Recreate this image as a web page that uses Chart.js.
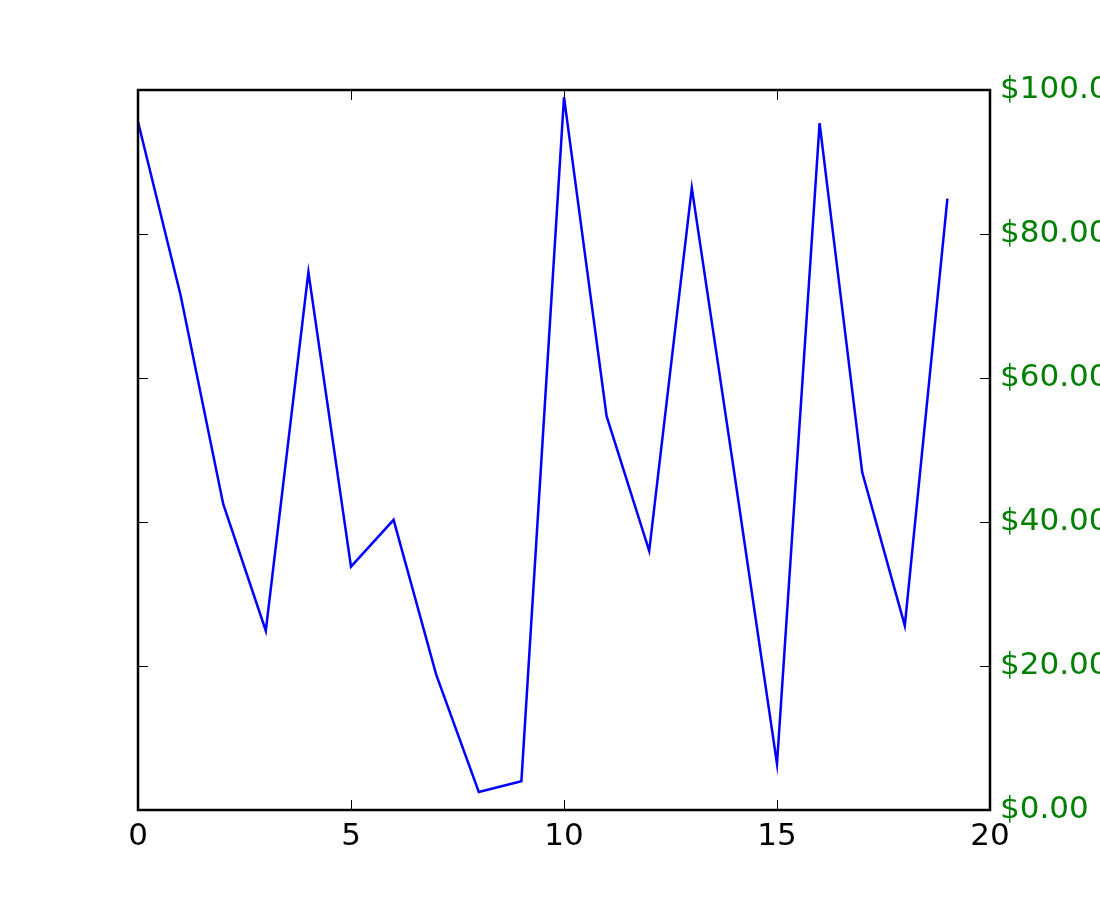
<!DOCTYPE html>
<html>
<head>
<meta charset="utf-8">
<script src="https://cdn.jsdelivr.net/npm/chart.js@4"></script>
<style>
  html, body { margin: 0; padding: 0; background: #fff; }
  #wrap { width: 1100px; height: 900px; }
</style>
</head>
<body>
<div id="wrap"><canvas id="chart" width="1100" height="900"></canvas></div>
<script>
const xValues = [0, 1, 2, 3, 4, 5, 6, 7, 8, 9, 10, 11, 12, 13, 14, 15, 16, 17, 18, 19];
const yValues = [95.6, 71.5, 42.5, 24.9, 74.7, 33.8, 40.3, 18.8, 2.5, 4.0,
                 99.0, 54.7, 36.0, 86.4, 46.7, 6.4, 95.4, 46.9, 25.6, 84.9];
const xTicks = [0, 5, 10, 15, 20];
const yTicks = [0, 20, 40, 60, 80, 100];

// matplotlib-style frame with inward ticks on all four sides
const frameTicks = {
    id: 'frameTicks',
    afterDraw(chart) {
        const ctx = chart.ctx;
        const a = chart.chartArea;
        const xs = chart.scales.x, ys = chart.scales.y;
        ctx.save();
        ctx.strokeStyle = '#000';
        ctx.lineWidth = 1;
        ctx.beginPath();
        xTicks.forEach(v => {
            const px = Math.round(xs.getPixelForValue(v)) + 0.5;
            ctx.moveTo(px, a.bottom); ctx.lineTo(px, a.bottom - 10);
            ctx.moveTo(px, a.top); ctx.lineTo(px, a.top + 10);
        });
        yTicks.forEach(v => {
            const py = Math.round(ys.getPixelForValue(v)) + 0.5;
            ctx.moveTo(a.left, py); ctx.lineTo(a.left + 10, py);
            ctx.moveTo(a.right, py); ctx.lineTo(a.right - 10, py);
        });
        ctx.stroke();
        ctx.lineWidth = 2.5;
        ctx.strokeRect(a.left, a.top, a.right - a.left, a.bottom - a.top);
        ctx.restore();
    }
};

const font = { family: 'DejaVu Sans', size: 31 };

new Chart(document.getElementById('chart').getContext('2d'), {
    type: 'line',
    data: {
        labels: xValues,
        datasets: [{
            data: xValues.map((x, i) => ({ x: x, y: yValues[i] })),
            borderColor: '#0000ff',
            borderWidth: 2.5,
            pointRadius: 0,
            tension: 0,
            fill: false,
            yAxisID: 'y'
        }]
    },
    options: {
        responsive: false,
        animation: false,
        layout: { padding: { top: 90, left: 0, right: 0, bottom: 0 } },
        plugins: { legend: { display: false }, tooltip: { enabled: false } },
        scales: {
            x: {
                type: 'linear',
                min: 0, max: 20,
                afterBuildTicks: s => { s.ticks = xTicks.map(v => ({ value: v })); },
                afterFit: s => { s.height = 90; },
                grid: { display: false, drawTicks: false },
                border: { display: false },
                ticks: { font: font, color: '#000', padding: 8, maxRotation: 0 }
            },
            y: {
                position: 'left',
                min: 0, max: 100,
                afterBuildTicks: s => { s.ticks = yTicks.map(v => ({ value: v })); },
                afterFit: s => { s.width = 138; },
                grid: { display: false, drawTicks: false },
                border: { display: false },
                ticks: { display: false }
            },
            y2: {
                position: 'right',
                min: 0, max: 100,
                afterBuildTicks: s => { s.ticks = yTicks.map(v => ({ value: v })); },
                afterFit: s => { s.width = 110; },
                grid: { display: false, drawTicks: false },
                border: { display: false },
                ticks: {
                    font: font, color: '#008000', padding: 10,
                    callback: v => '$' + v.toFixed(2)
                }
            }
        }
    },
    plugins: [frameTicks]
});
</script>
</body>
</html>
